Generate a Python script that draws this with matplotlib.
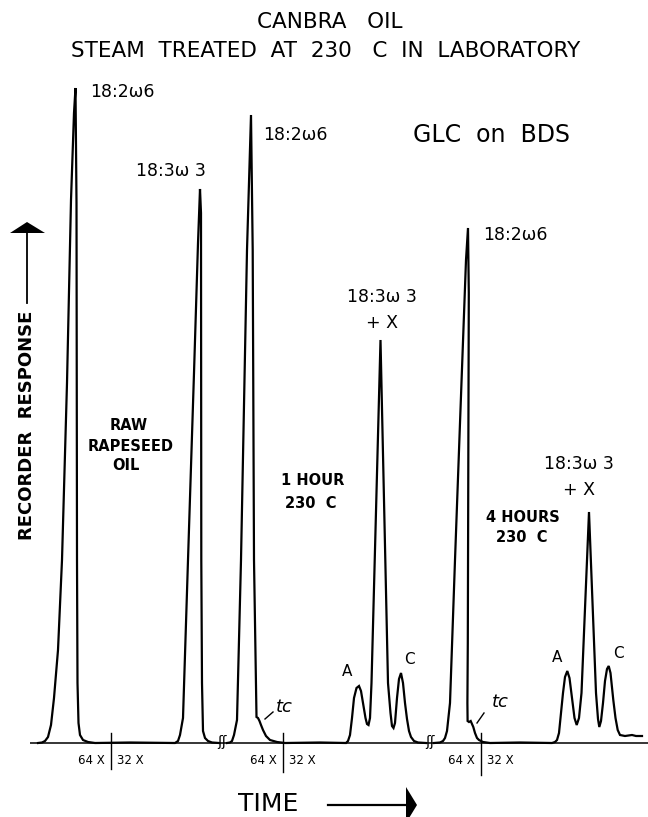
import matplotlib
matplotlib.use("Agg")
import matplotlib.pyplot as plt
from matplotlib.patches import Polygon

# ---------------- data ----------------
# time axis: chart position; response: pen height above baseline
raw_time = [38, 42, 45, 48, 51, 54, 58, 62, 67, 71, 74, 75.5, 76.5, 77, 77.5, 78.5,
            80, 83, 88, 95, 130, 175, 178, 180, 183, 188, 194, 198, 200, 201,
            201.3, 202, 203, 205, 208, 212, 219]
raw_resp = [0, 0.5, 2, 6, 18, 45, 93, 183, 360, 543, 630, 655, 540, 183, 60, 20,
            8, 3, 1, 0, 0.5, 0, 2, 8, 25, 183, 370, 500, 554, 530,
            183, 60, 12, 5, 2, 0.5, 0]

hr1_time = [227, 230, 232, 234, 237, 241, 247, 251, 252.7, 254, 256.5, 258, 259.5,
            261, 263, 266, 270, 277, 285, 320, 346, 348, 350, 352, 354, 356.5,
            359, 361, 363, 365.5, 367, 368.5, 370, 371.5, 380.5, 388,
            390.5, 392, 393.5, 395, 397, 399, 401, 403, 405, 407, 409,
            411, 414, 418, 426]
hr1_resp = [0, 0.5, 2, 8, 23, 183, 493, 628, 493, 183, 26, 25, 22,
            18, 13, 7, 3, 1, 0, 0.5, 0, 2, 8, 25, 45, 55,
            57, 52, 40, 25, 19, 18, 25, 60, 403, 60,
            30, 17, 15, 20, 45, 64, 70, 60, 40, 24, 12,
            6, 2, 0.5, 0]

hr4_time = [434, 440, 443, 445, 447, 450, 455, 460, 466, 468, 468.8, 467.8,
            467.4, 467.6, 469, 470.7, 472, 473.3, 475, 477, 479, 483, 490, 520,
            552, 555, 557, 559, 561, 563, 565, 567.3, 569.5, 572, 574.5, 576.7,
            579, 581.5, 589, 596, 598, 599.3, 601, 603,
            605, 607, 608.7, 610.5, 613.3, 615.5, 617.7, 620, 625, 632, 636, 642]
hr4_resp = [0, 0.5, 2, 5, 12, 40, 183, 320, 483, 515, 450, 100,
            40, 22, 21, 22, 19, 16, 10, 5, 3, 1, 0, 0.5,
            0, 1, 3, 10, 30, 50, 66, 72, 65, 45, 25, 18,
            25, 50, 231, 50, 24, 16, 22, 40,
            62, 74, 77, 70, 43, 25, 13, 8, 7, 8, 7, 7]

attenuation_ticks = [111, 283, 481]
attenuation_labels = [("64 X", "32 X")] * 3

peak_labels = ["18:2ω6", "18:3ω 3", "18:2ω6", "18:3ω 3\n+ X", "18:2ω6", "18:3ω 3\n+ X"]
sample_labels = [["RAW", "RAPESEED", "OIL"], ["1 HOUR", "230  C"], ["4 HOURS", "230  C"]]
minor_labels = ["A", "C", "A", "C"]

# ---------------- layout ----------------
W, H = 648, 817
BASE = 743  # baseline pixel row
fig = plt.figure(figsize=(W / 100, H / 100), dpi=100)
ax = fig.add_axes([0, 0, 1, 1])
ax.set_xlim(0, W)
ax.set_ylim(BASE - H, BASE)
ax.axis("off")

def r(ypix):
    return BASE - ypix

FONT = "DejaVu Sans"
ink = "black"

# baseline rule
ax.plot([30, W], [0, 0], color=ink, lw=1.1, solid_capstyle="butt")

# chromatogram traces
for t, v in [(raw_time, raw_resp), (hr1_time, hr1_resp), (hr4_time, hr4_resp)]:
    ax.plot(t, v, color=ink, lw=1.6, solid_joinstyle="miter")

# break symbols between runs
for bx in [222, 430]:
    ax.text(bx, 1, "ʃʃ", fontsize=10, ha="center", va="center", family=FONT, color=ink)

# attenuation change ticks
tick_bottoms = [-26, -29, -32]
for tx, (lab_l, lab_r), tb in zip(attenuation_ticks, attenuation_labels, tick_bottoms):
    ax.plot([tx, tx], [10, tb], color=ink, lw=1.0)
    ax.text(tx - 6, r(760), lab_l, fontsize=8.5, ha="right", va="center", family=FONT)
    ax.text(tx + 6, r(760), lab_r, fontsize=8.5, ha="left", va="center", family=FONT)

# titles
ax.text(330, r(22), "CANBRA   OIL", fontsize=15.5, ha="center", va="center", family=FONT)
ax.text(326, r(51), "STEAM  TREATED  AT  230   C  IN  LABORATORY", fontsize=15.5,
        ha="center", va="center", family=FONT)
ax.text(413, r(135), "GLC  on  BDS", fontsize=17, ha="left", va="center", family=FONT)

# peak labels
pk = dict(fontsize=12.5, family=FONT, va="center")
ax.text(90, r(92), peak_labels[0], ha="left", **pk)
ax.text(136, r(171), peak_labels[1], ha="left", **pk)
ax.text(263, r(135), peak_labels[2], ha="left", **pk)
ax.text(382, r(310), peak_labels[3], ha="center", linespacing=1.6, **pk)
ax.text(483, r(235), peak_labels[4], ha="left", **pk)
ax.text(579, r(477), peak_labels[5], ha="center", linespacing=1.6, **pk)

# sample labels
sl = dict(fontsize=10.5, family=FONT, ha="center", va="center", fontweight="bold")
for txt, (x, y) in zip(sample_labels[0], [(129, 425), (131, 446), (126, 465)]):
    ax.text(x, r(y), txt, **sl)
for txt, (x, y) in zip(sample_labels[1], [(313, 480), (311, 503)]):
    ax.text(x, r(y), txt, **sl)
for txt, (x, y) in zip(sample_labels[2], [(523, 517), (522, 538)]):
    ax.text(x, r(y), txt, **sl)

# minor peak letters
for txt, (x, y) in zip(minor_labels, [(347, 672), (409, 660), (557, 657), (618, 654)]):
    ax.text(x, r(y), txt, fontsize=11, family=FONT, ha="center", va="center")

# tc annotations
for (tx, ty), (x0, y0, x1, y1) in [((284, 707), (265, 24, 273, 31)),
                                   ((500, 702), (477, 20, 484, 30))]:
    ax.text(tx, r(ty), "tc", fontsize=13, family=FONT, style="italic",
            ha="center", va="center")
    ax.plot([x0, x1], [y0, y1], color=ink, lw=1.0)

# axis labels with arrows
ax.text(27, r(425), "RECORDER  RESPONSE", fontsize=13, rotation=90, family=FONT,
        ha="center", va="center", fontweight="bold")
ax.plot([27, 27], [r(303), r(228)], color=ink, lw=1.3)
ax.add_patch(Polygon([[27, r(222)], [10, r(233)], [45, r(233)]], closed=True,
                     color=ink, lw=0))

ax.text(268.5, r(804), "TIME", fontsize=18, family=FONT, ha="center", va="center")
ax.plot([328, 408], [r(805), r(805)], color=ink, lw=1.6)
ax.add_patch(Polygon([[406, r(787)], [417, r(805)], [406, r(823)]], closed=True,
                     color=ink, lw=0))

fig.savefig("out.png", dpi=100)
